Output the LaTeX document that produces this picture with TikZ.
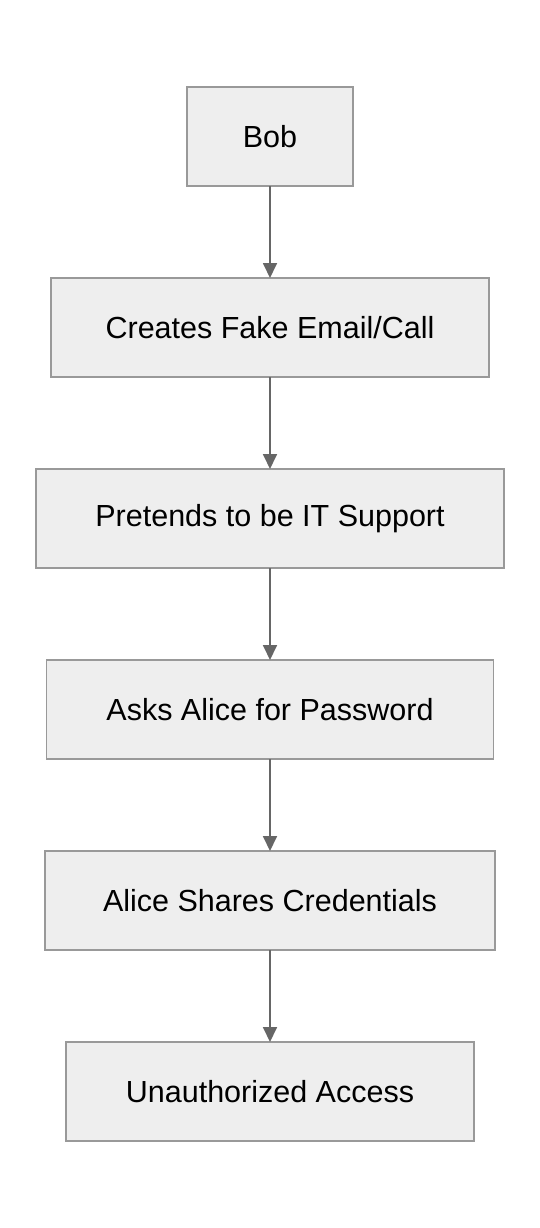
\documentclass[tikz,border=0pt]{standalone}
\usepackage{fontspec}
\setmainfont{Liberation Sans}
\usetikzlibrary{positioning}
\usetikzlibrary{arrows.meta}
\definecolor{boxfill}{HTML}{EEEEEE}
\definecolor{boxline}{HTML}{999999}
\definecolor{arrowline}{HTML}{666666}
\tikzset{
    flowbox/.style={draw=boxline,fill=boxfill,line width=1.5pt,minimum height=99pt,
        inner sep=0pt,outer sep=0pt,font=\fontsize{30.5}{36}\selectfont},
    flowarrow/.style={draw=arrowline,line width=1.8pt,-{Triangle[width=14pt,length=15pt]}}
}
\begin{document}
\begin{tikzpicture}[x=1pt,y=1pt,node distance=92pt]
    \useasboundingbox (0,0) rectangle (540,-1228);
    \node[flowbox,minimum width=166pt] (bob) at (270,-136.5) {Bob};
    \node[flowbox,minimum width=438pt,below=of bob] (fake) {Creates Fake Email/Call};
    \node[flowbox,minimum width=468pt,below=of fake] (pretend) {Pretends to be IT Support};
    \node[flowbox,minimum width=447pt,below=of pretend] (ask) {Asks Alice for Password};
    \node[flowbox,minimum width=450pt,below=of ask] (share) {Alice Shares Credentials};
    \node[flowbox,minimum width=408pt,below=of share] (access) {Unauthorized Access};
    \draw[flowarrow] (bob) -- (fake);
    \draw[flowarrow] (fake) -- (pretend);
    \draw[flowarrow] (pretend) -- (ask);
    \draw[flowarrow] (ask) -- (share);
    \draw[flowarrow] (share) -- (access);
\end{tikzpicture}
\end{document}
